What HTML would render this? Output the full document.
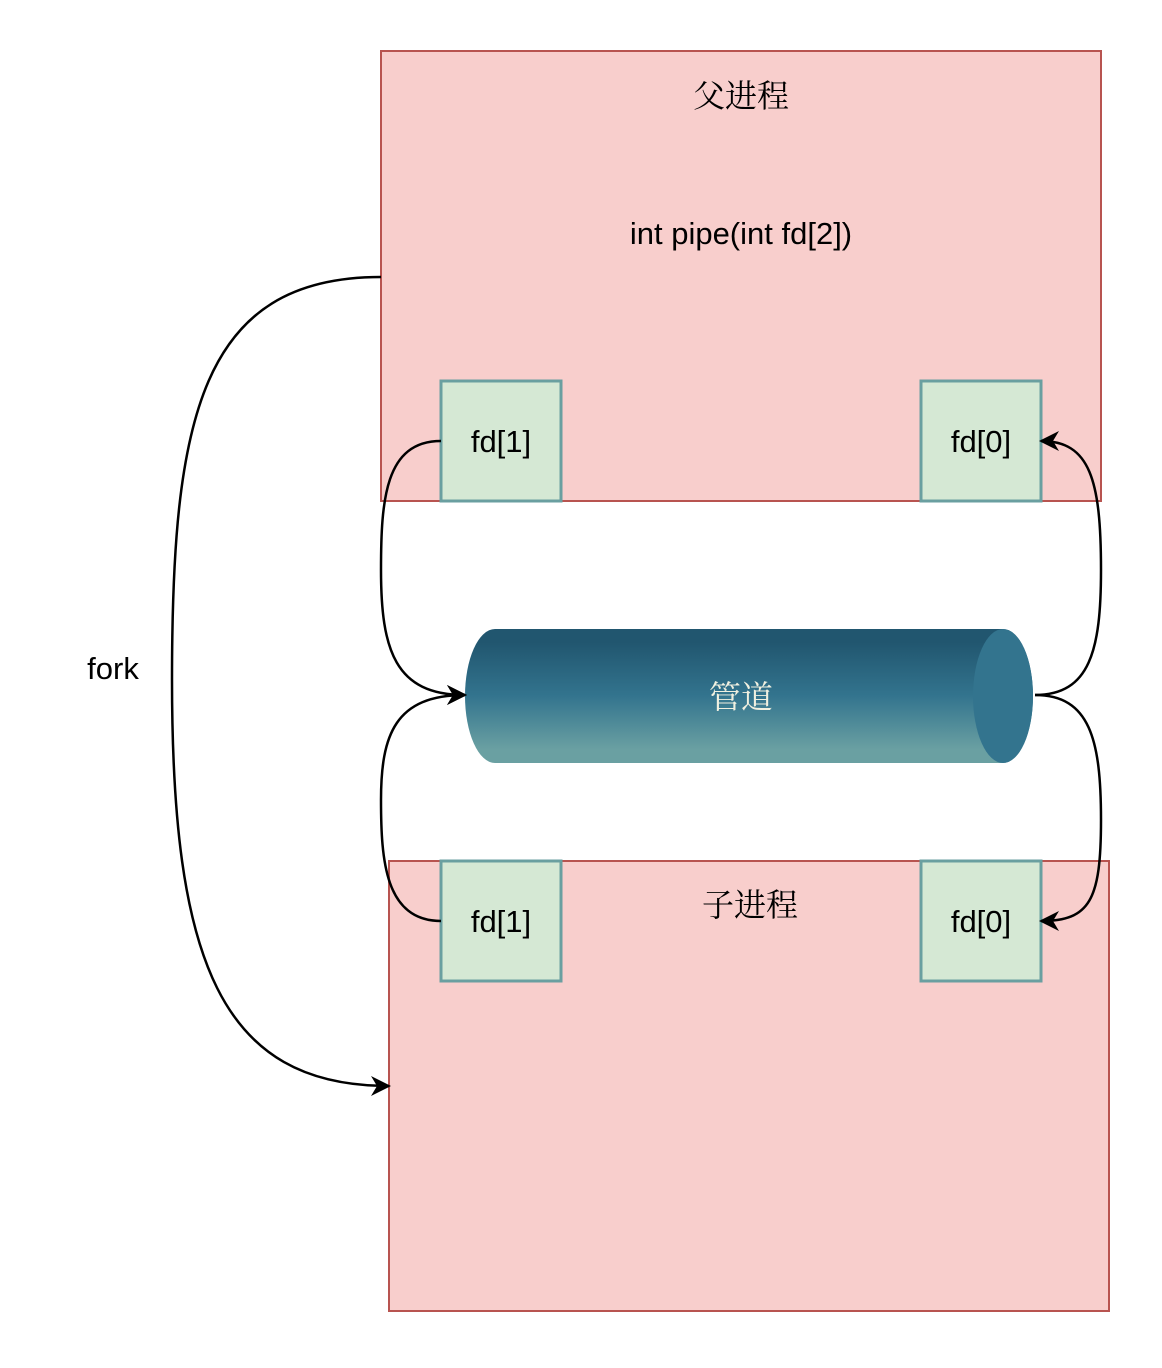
<!DOCTYPE html>
<html><head><meta charset="utf-8"><style>body{margin:0;background:#fff}</style></head>
<body>
<svg width="1162" height="1363" viewBox="0 0 1162 1363" xmlns="http://www.w3.org/2000/svg" font-family="Liberation Sans, Noto Sans CJK SC, sans-serif">
<defs>
<marker id="a" viewBox="0 0 20 20" refX="18" refY="10" markerWidth="20" markerHeight="20" markerUnits="userSpaceOnUse" orient="auto">
<path d="M0 0 L20 10 L0 20 L6 10 Z" fill="#000"/>
</marker>
<linearGradient id="g" x1="0" y1="0" x2="0" y2="1">
<stop offset="0.1" stop-color="#21566f"/>
<stop offset="0.5" stop-color="#33748e"/>
<stop offset="0.9" stop-color="#6aa0a2"/>
</linearGradient>
</defs>
<rect x="381" y="51" width="720" height="450" fill="#f8cecc" stroke="#b85450" stroke-width="2"/>
<rect x="389" y="861" width="720" height="450" fill="#f8cecc" stroke="#b85450" stroke-width="2"/>
<text x="741" y="107" font-size="32" text-anchor="middle" fill="#000" font-family="Noto Serif CJK SC, serif">父进程</text>
<text x="741" y="244" font-size="31" text-anchor="middle" fill="#000">int pipe(int fd[2])</text>
<text x="750" y="916" font-size="32" text-anchor="middle" fill="#000" font-family="Noto Serif CJK SC, serif">子进程</text>
<g fill="#d5e8d4" stroke="#6a9fa0" stroke-width="3">
<rect x="441" y="381" width="120" height="120"/>
<rect x="921" y="381" width="120" height="120"/>
<rect x="441" y="861" width="120" height="120"/>
<rect x="921" y="861" width="120" height="120"/>
</g>
<g font-size="31" text-anchor="middle" fill="#000">
<text x="501" y="452">fd[1]</text>
<text x="981" y="452">fd[0]</text>
<text x="501" y="932">fd[1]</text>
<text x="981" y="932">fd[0]</text>
<text x="113" y="679">fork</text>
</g>
<path d="M495 629 L1003 629 A30 67 0 0 1 1003 763 L495 763 A30 67 0 0 1 495 629 Z" fill="url(#g)"/>
<ellipse cx="1003" cy="696" rx="30" ry="67" fill="#33748e"/>
<text x="741" y="708" font-size="32" text-anchor="middle" fill="#f0f0e0" font-family="Noto Serif CJK SC, serif">管道</text>
<g fill="none" stroke="#000" stroke-width="2.5">
<path d="M381 277 C200 277 172 420 172 680 C172 960 220 1086 389 1086" marker-end="url(#a)"/>
<path d="M441 441 C385 441 381 500 381 570 C381 650 395 695 465 695" marker-end="url(#a)"/>
<path d="M441 921 C385 921 381 860 381 800 C381 735 395 695 465 695" marker-end="url(#a)"/>
<path d="M1035 695 C1090 695 1101 650 1101 570 C1101 480 1090 441 1041 441" marker-end="url(#a)"/>
<path d="M1035 695 C1090 695 1101 740 1101 820 C1101 900 1090 921 1041 921" marker-end="url(#a)"/>
</g>
</svg>
</body></html>
